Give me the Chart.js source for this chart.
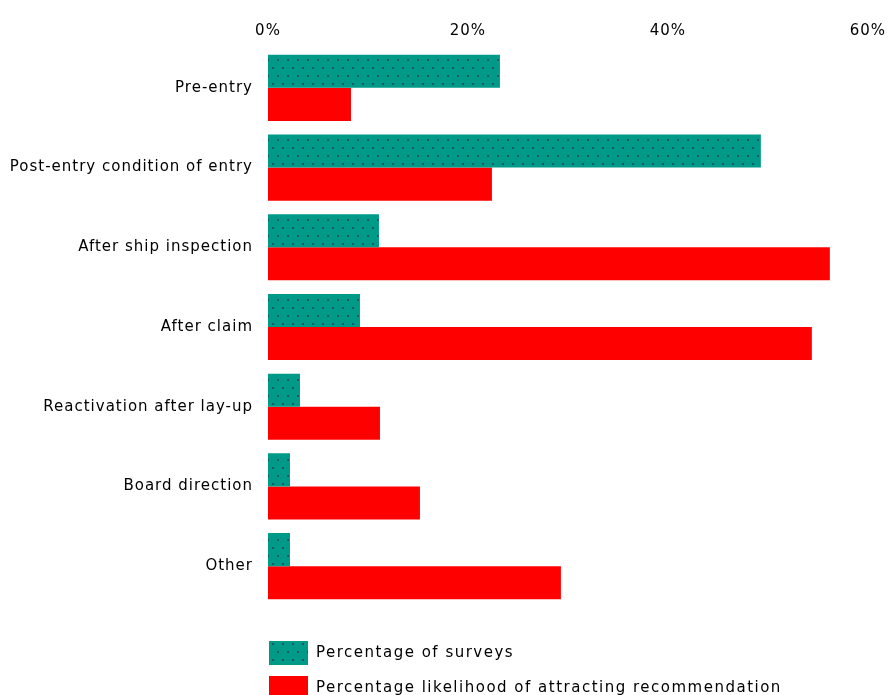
<!DOCTYPE html>
<html><head><meta charset="utf-8">
<script src="https://cdn.jsdelivr.net/npm/chart.js@4"></script>
<style>html,body{margin:0;padding:0;background:#fff}#wrap{width:894px;height:695px;position:relative}</style>
</head><body><div id="wrap"><canvas id="c" width="894" height="695"></canvas></div>
<script>
const categories = ["Pre-entry", "Post-entry condition of entry", "After ship inspection", "After claim", "Reactivation after lay-up", "Board direction", "Other"];
const surveys = [23.2, 49.3, 11.1, 9.2, 3.2, 2.2, 2.2];
const recommendation = [8.3, 22.4, 56.2, 54.4, 11.2, 15.2, 29.3];
const seriesNames = ["Percentage of surveys", "Percentage likelihood of attracting recommendation"];
const xTickValues = [0, 20, 40, 60];

const TEAL = '#009a88';
const RED = '#ff0000';
const FONT = '"DejaVu Sans", sans-serif';

const canvas = document.getElementById('c');
const ctx = canvas.getContext('2d');
function makePattern() {
  const t = document.createElement('canvas');
  t.width = 10; t.height = 16;
  const g = t.getContext('2d');
  g.fillStyle = TEAL; g.fillRect(0, 0, 10, 16);
  g.fillStyle = '#23566a';
  g.fillRect(2, 3, 2, 2);
  g.fillRect(7, 11, 2, 2);
  return ctx.createPattern(t, 'repeat');
}
const tealPattern = makePattern();

const spacingPlugin = {
  id: 'spacing',
  beforeUpdate(c) { c.ctx.letterSpacing = '1px'; },
  beforeLayout(c) { c.ctx.letterSpacing = '1px'; },
  beforeDraw(c) { c.ctx.letterSpacing = '1px'; }
};

const legendPlugin = {
  id: 'stackLegend',
  afterDraw(c) {
    const g = c.ctx;
    g.save();
    g.letterSpacing = '1.5px';
    const x0 = c.chartArea.left + 1;
    const rows = [641, 676];
    c.data.datasets.forEach((ds, i) => {
      const y = rows[i];
      g.fillStyle = ds.backgroundColor;
      g.fillRect(x0, y, 39, 24);
      g.fillStyle = '#000';
      g.font = '15px ' + FONT;
      g.textBaseline = 'middle';
      g.textAlign = 'left';
      g.fillText(ds.label, x0 + 47, y + 12);
    });
    g.restore();
  }
};

new Chart(ctx, {
  type: 'bar',
  data: {
    labels: categories,
    datasets: [
      { label: seriesNames[0], data: surveys, backgroundColor: tealPattern, borderWidth: 0 },
      { label: seriesNames[1], data: recommendation, backgroundColor: RED, borderWidth: 0 }
    ]
  },
  options: {
    indexAxis: 'y',
    responsive: false,
    animation: false,
    events: [],
    layout: { padding: { left: 0, right: 22, top: 0, bottom: 89 } },
    categoryPercentage: 0.83,
    barPercentage: 1.0,
    plugins: { legend: { display: false }, tooltip: { enabled: false } },
    scales: {
      x: {
        position: 'top',
        min: 0, max: 60,
        grid: { display: false, drawTicks: false },
        border: { display: false },
        afterBuildTicks(s) { s.ticks = xTickValues.map(v => ({ value: v })); },
        afterFit(s) { s.height = 48; },
        ticks: {
          padding: 8,
          maxRotation: 0,
          color: '#000',
          font: { family: FONT, size: 15 },
          callback: v => v + '%'
        }
      },
      y: {
        grid: { display: false, drawTicks: false },
        border: { display: false },
        afterFit(s) { s.width = 268; },
        ticks: {
          padding: 15,
          color: '#000',
          font: { family: FONT, size: 15 }
        }
      }
    }
  },
  plugins: [spacingPlugin, legendPlugin]
});
</script></body></html>
